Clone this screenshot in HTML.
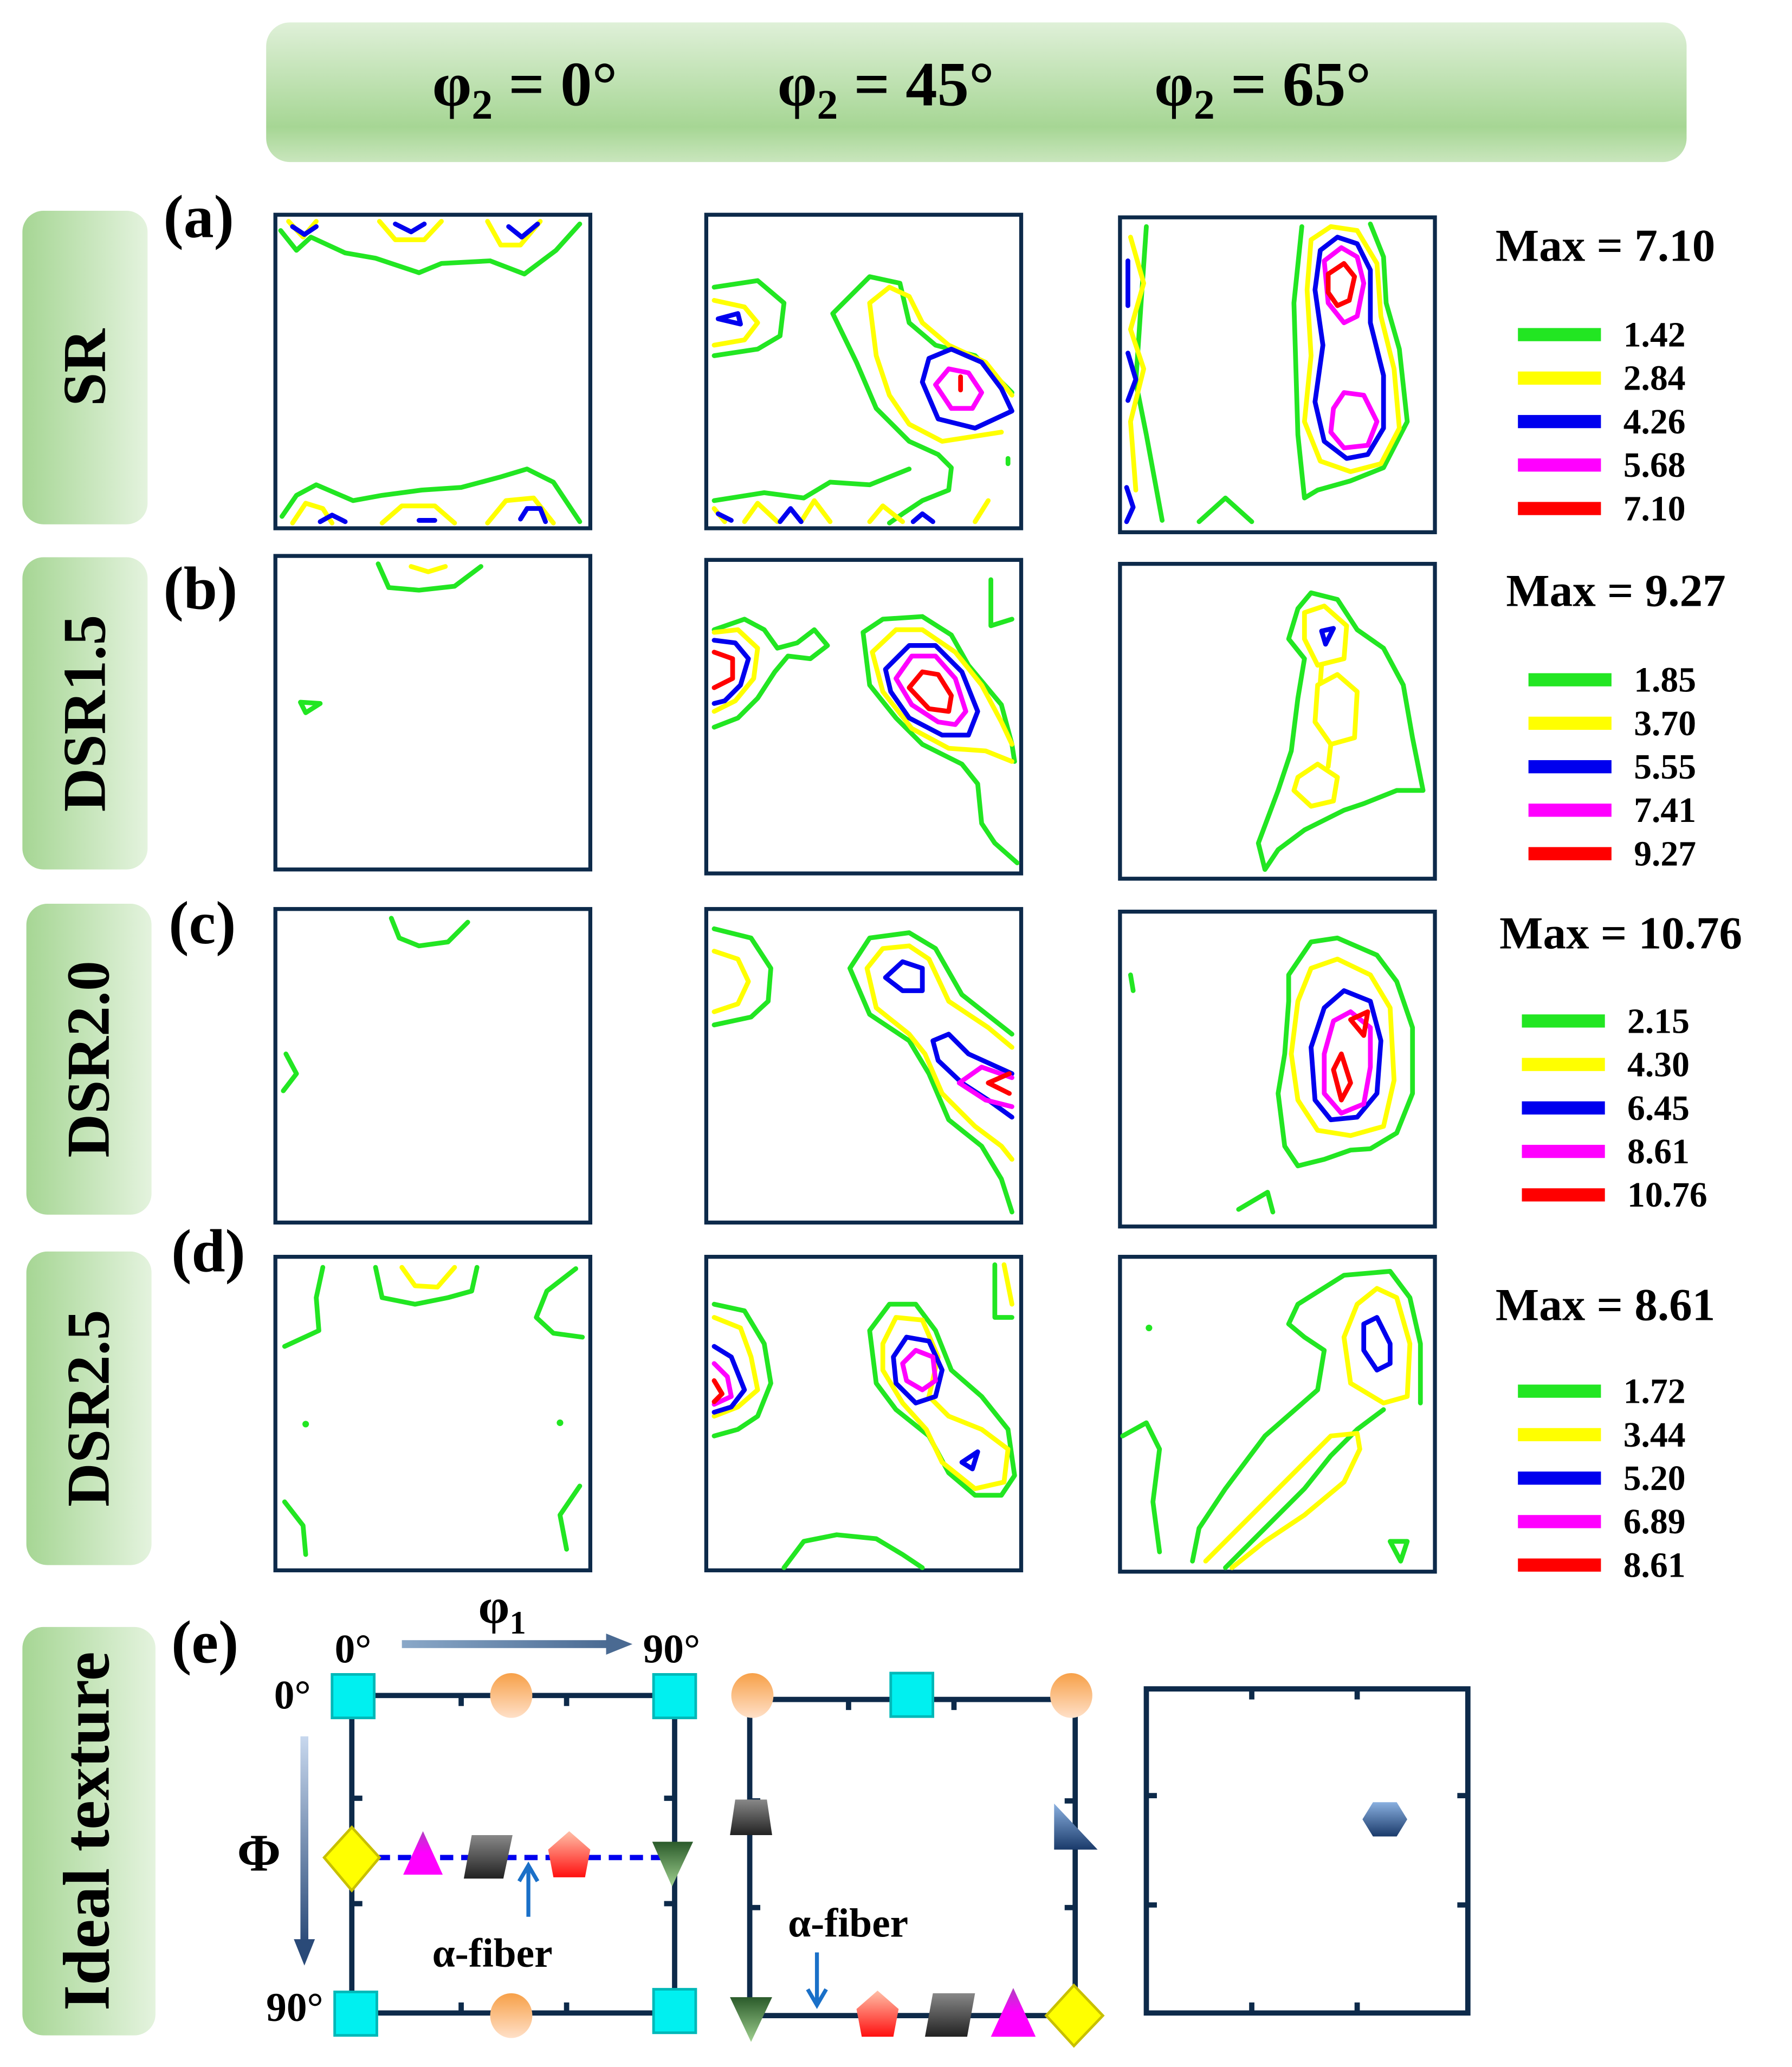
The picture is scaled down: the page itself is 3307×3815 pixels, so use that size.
<!DOCTYPE html>
<html><head><meta charset="utf-8"><style>
html,body{margin:0;padding:0;background:#fff;}
svg{display:block;}
text{font-family:"Liberation Serif",serif;font-weight:bold;fill:#000;}
.fr{fill:#fff;stroke:#0d2a4a;stroke-width:3;}
.g,.y,.b,.m,.r{fill:none;stroke-width:3.6;stroke-linejoin:round;stroke-linecap:round;}
.g{stroke:#22e622}.y{stroke:#ffff00}.b{stroke:#0000ee}.m{stroke:#ff00ff}.r{stroke:#ff0000}
.ax{stroke:#0d2a4a;stroke-width:4;fill:none;}
</style></head><body>
<svg id="fig" width="3307" height="3815" viewBox="0 0 1360 1569" preserveAspectRatio="none" xmlns="http://www.w3.org/2000/svg">
<defs>
<linearGradient id="hdr" x1="0" y1="0" x2="0" y2="1"><stop offset="0" stop-color="#dff0d8"/><stop offset="0.75" stop-color="#a6d694"/><stop offset="1" stop-color="#c9e6bd"/></linearGradient>
<linearGradient id="rowg" x1="0" y1="0" x2="1" y2="0"><stop offset="0" stop-color="#a6d694"/><stop offset="1" stop-color="#e4f3de"/></linearGradient>
<linearGradient id="arrH" x1="0" y1="0" x2="1" y2="0"><stop offset="0" stop-color="#8aa8c8"/><stop offset="1" stop-color="#4a6a92"/></linearGradient>
<linearGradient id="arrV" x1="0" y1="0" x2="0" y2="1"><stop offset="0" stop-color="#c8d8ee"/><stop offset="1" stop-color="#2a4a78"/></linearGradient>
<linearGradient id="orng" x1="0" y1="0" x2="0" y2="1"><stop offset="0" stop-color="#f7a048"/><stop offset="1" stop-color="#ffe0c8"/></linearGradient>
<linearGradient id="gray" x1="0" y1="0" x2="0" y2="1"><stop offset="0" stop-color="#888"/><stop offset="1" stop-color="#222"/></linearGradient>
<linearGradient id="redg" x1="0" y1="0" x2="0" y2="1"><stop offset="0" stop-color="#ffc0a8"/><stop offset="1" stop-color="#ff1010"/></linearGradient>
<linearGradient id="grng" x1="0" y1="0" x2="0" y2="1"><stop offset="0" stop-color="#2a5a2a"/><stop offset="1" stop-color="#9fd08f"/></linearGradient>
<linearGradient id="magg" x1="0" y1="0" x2="0" y2="1"><stop offset="0" stop-color="#b040c0"/><stop offset="0.5" stop-color="#ff00ff"/></linearGradient>
<linearGradient id="blug" x1="0" y1="0" x2="0" y2="1"><stop offset="0" stop-color="#8ab0e0"/><stop offset="1" stop-color="#1a3a6a"/></linearGradient>
</defs>

<rect x="202" y="17" width="1078" height="106" rx="18" fill="url(#hdr)"/>
<text x="328" y="80" font-size="48">φ<tspan font-size="32" dy="10">2</tspan><tspan dy="-10"> = 0°</tspan></text>
<text x="590" y="80" font-size="48">φ<tspan font-size="32" dy="10">2</tspan><tspan dy="-10"> = 45°</tspan></text>
<text x="876" y="80" font-size="48">φ<tspan font-size="32" dy="10">2</tspan><tspan dy="-10"> = 65°</tspan></text>

<g id="rowlabels"></g>
<g id="frames"></g>

<text x="124" y="180" font-size="46">(a)</text>
<text x="124" y="462" font-size="46">(b)</text>
<text x="128" y="716" font-size="46">(c)</text>
<text x="130" y="965" font-size="46">(d)</text>
<text x="130" y="1262" font-size="46">(e)</text>

<!-- a1 -->
<g>
<polyline class="g" points="213,175 225,190 236,180 262,192 285,196 318,207 335,200 372,198 398,208 422,190 440,170"/>
<polyline class="y" points="219,168 230,180 240,168"/><polyline class="y" points="288,168 300,182 322,182 335,168"/><polyline class="y" points="370,168 380,186 395,186 410,168"/>
<polyline class="b" points="222,172 231,178 240,172"/><polyline class="b" points="300,170 312,176 322,170"/><polyline class="b" points="386,172 396,180 408,170"/>
<polyline class="g" points="214,392 225,376 240,368 268,380 290,376 320,372 350,370 380,362 400,356 420,366 440,396"/>
<polyline class="y" points="222,397 232,382 245,386 252,397"/><polyline class="y" points="290,397 305,384 330,384 345,397"/><polyline class="y" points="370,397 384,380 405,378 420,397"/>
<polyline class="b" points="243,396 252,391 262,396"/><polyline class="b" points="318,395 330,395"/><polyline class="b" points="395,394 400,386 410,386 414,396"/>
</g>
<!-- a2 -->
<g>
<polyline class="g" points="542,218 575,213 595,230 592,255 575,265 542,270"/>
<polyline class="y" points="542,228 565,233 575,245 565,258 542,262"/>
<polygon class="b" points="545,242 560,238 562,246"/>
<polyline class="g" points="768,298 740,270 710,262 690,245 683,215 660,210 632,238 650,275 665,310 690,335 712,345 722,355 720,372 700,380 685,390 675,397"/>
<polyline class="g" points="542,380 580,374 610,378 630,366 660,368 690,356"/>
<polyline class="y" points="768,300 748,275 720,262 700,245 690,225 675,218 660,230 665,270 675,300 690,322 715,335 760,328"/>
<polygon class="b" points="700,290 705,272 722,265 745,275 760,295 768,312 740,325 712,318"/>
<polygon class="m" points="710,292 720,280 735,283 745,298 738,310 722,310"/>
<polyline class="r" points="729,286 729,296"/>
<polyline class="y" points="542,386 550,396"/><polyline class="y" points="565,396 575,382 590,396"/><polyline class="y" points="608,396 618,380 630,396"/><polyline class="y" points="660,396 670,384 685,396"/><polyline class="y" points="740,396 750,380"/>
<polyline class="b" points="545,390 555,395"/><polyline class="b" points="592,396 600,386 608,396"/><polyline class="b" points="693,396 700,390 708,396"/>
<polyline class="g" points="765,348 765,352"/>
</g>
<!-- a3 -->
<g>
<polyline class="g" points="870,172 866,230 862,290 870,330 882,395"/>
<polyline class="y" points="858,180 868,215 858,250 868,280 858,320 862,372"/>
<polyline class="b" points="856,198 856,232"/><polyline class="b" points="856,268 862,288 856,304"/><polyline class="b" points="855,370 860,385 855,396"/>
<polyline class="g" points="988,172 982,230 985,330 990,378 1000,372 1025,365 1050,355 1068,320 1062,265 1052,230 1050,195 1040,170"/>
<polygon class="y" points="995,182 1010,172 1030,175 1045,200 1048,240 1058,280 1062,325 1048,352 1025,358 1002,350 990,320 995,270 992,220"/>
<polygon class="b" points="1002,190 1015,180 1030,185 1040,205 1040,245 1050,285 1050,325 1038,345 1022,348 1005,335 998,305 1004,262 998,220"/>
<polygon class="m" points="1005,198 1018,188 1030,195 1035,215 1030,240 1020,245 1008,230"/>
<polygon class="m" points="1012,310 1020,298 1035,300 1045,320 1038,338 1020,340 1010,328"/>
<polygon class="r" points="1008,208 1020,200 1028,210 1024,228 1015,232 1008,222"/>
<polyline class="g" points="910,396 930,378 950,396"/>
</g>
<!-- b1 -->
<g>
<polyline class="g" points="287,428 295,446 318,448 345,445 365,430"/>
<polyline class="y" points="312,430 325,434 338,430"/>
<polygon class="g" points="228,533 243,534 232,541"/>
</g>
<!-- b2 -->
<g>
<polyline class="g" points="542,478 565,470 580,478 590,492 605,488 618,478 628,490 615,500 598,498 588,510 575,530 560,545 542,552"/>
<polyline class="y" points="542,480 560,478 575,492 572,515 558,532 542,540"/>
<polyline class="b" points="542,486 558,488 568,500 562,520 550,532 542,534"/>
<polyline class="r" points="542,495 556,500 556,515 542,522"/>
<polyline class="g" points="770,578 768,565 760,535 735,505 722,482 700,468 670,470 655,480 660,520 680,545 700,565 730,580 742,595 745,625 755,640 772,655"/>
<polyline class="g" points="752,440 752,475 768,470"/>
<polyline class="y" points="768,565 760,548 745,520 725,495 700,478 680,478 662,495 670,525 692,553 720,568 748,570 768,578"/>
<polygon class="b" points="672,508 690,490 710,490 730,510 742,540 735,558 715,558 690,545 676,525"/>
<polygon class="m" points="680,515 692,498 710,498 725,515 733,540 725,550 712,548 692,535"/>
<polygon class="r" points="690,522 700,510 712,512 722,528 720,540 705,538"/>
</g>
<!-- b3 -->
<g>
<polyline class="g" points="960,660 970,645 990,630 1020,615 1035,610 1060,600 1080,600 1072,560 1065,520 1050,492 1030,478 1015,455 995,450 985,462 978,485 990,500 985,530 980,570 970,600 955,640 960,660"/>
<polygon class="y" points="990,465 1005,460 1022,475 1020,500 1000,505 990,485"/>
<polygon class="y" points="1000,520 1015,512 1030,525 1028,560 1010,565 998,548"/>
<polygon class="y" points="985,590 1000,580 1015,590 1012,608 995,612 982,600"/>
<polyline class="y" points="1010,565 1008,582"/>
<polyline class="y" points="1003,505 1002,518"/>
<polygon class="b" points="1003,479 1012,477 1006,489"/>
</g>
<!-- c1 -->
<g>
<polyline class="g" points="297,697 303,712 318,718 340,715 355,700"/>
<polyline class="g" points="217,800 225,815 215,828"/>
</g>
<!-- c2 -->
<g>
<polyline class="g" points="542,705 570,712 585,735 583,760 570,772 542,778"/>
<polyline class="y" points="542,722 560,728 568,745 560,762 542,768"/>
<polyline class="g" points="768,785 730,755 710,720 690,708 660,712 645,735 660,770 690,790 705,815 720,850 745,870 760,895 768,920"/>
<polyline class="y" points="768,795 750,780 720,760 705,728 690,718 670,720 658,735 665,765 690,785 702,800 715,830 740,855 760,870 768,880"/>
<polygon class="b" points="672,742 685,730 700,735 700,752 685,752"/>
<polyline class="b" points="768,815 735,800 720,785 708,790 712,805 730,822 750,835 768,848"/>
<polyline class="m" points="768,818 745,810 728,822 748,835 768,840"/>
<polyline class="r" points="766,815 750,822 766,830"/>
</g>
<!-- c3 -->
<g>
<polygon class="g" points="978,740 995,715 1015,712 1045,725 1060,745 1072,780 1072,830 1060,860 1040,872 1025,873 1005,880 985,885 975,870 970,830 975,800 978,760"/>
<polyline class="g" points="858,740 860,752"/>
<polyline class="g" points="940,918 962,905 966,920"/>
<polygon class="y" points="985,760 995,735 1015,728 1040,740 1055,765 1058,820 1050,855 1025,862 1000,858 985,835 980,800"/>
<polygon class="b" points="995,795 1005,765 1020,752 1040,760 1048,790 1045,830 1030,848 1010,850 998,835"/>
<polygon class="m" points="1005,800 1012,775 1025,768 1040,780 1040,810 1035,838 1018,845 1005,830"/>
<polygon class="r" points="1012,812 1018,800 1025,822 1018,835"/>
<polygon class="r" points="1025,774 1038,768 1035,786"/>
</g>
<!-- d1 -->
<g>
<polyline class="g" points="285,962 290,985 315,990 340,985 358,980 362,962"/>
<polyline class="y" points="305,962 315,976 332,977 345,962"/>
<polyline class="g" points="245,962 240,985 242,1010 216,1022"/>
<polyline class="g" points="437,963 415,980 407,1000 420,1012 442,1015"/>
<polyline class="g" points="216,1140 230,1158 232,1180"/>
<polyline class="g" points="440,1128 425,1150 430,1176"/>
<circle cx="232" cy="1081" r="2.5" fill="#22e622"/><circle cx="425" cy="1080" r="2.5" fill="#22e622"/>
</g>
<!-- d2 -->
<g>
<polyline class="g" points="542,990 565,995 580,1020 585,1050 575,1075 560,1085 542,1090"/>
<polyline class="y" points="542,1000 562,1008 570,1030 575,1055 560,1068 542,1075"/>
<polyline class="b" points="542,1022 555,1030 565,1055 555,1068 542,1072"/>
<polyline class="m" points="542,1035 552,1045 555,1060 542,1066"/>
<polyline class="r" points="542,1048 548,1058 542,1064"/>
<polyline class="g" points="755,960 755,1000 768,1000"/>
<polyline class="y" points="762,960 768,990"/>
<polygon class="g" points="660,1010 675,990 695,990 710,1010 722,1040 745,1060 765,1085 770,1120 760,1135 740,1135 720,1118 705,1090 680,1070 665,1050"/>
<polygon class="y" points="670,1020 680,1000 700,1002 712,1030 705,1060 720,1075 745,1085 765,1100 762,1125 740,1130 715,1110 703,1085 685,1065 670,1040"/>
<polygon class="b" points="678,1030 688,1015 705,1018 715,1040 710,1060 695,1065 680,1050"/>
<polygon class="m" points="685,1035 695,1025 708,1030 710,1048 700,1055 688,1048"/>
<polygon class="b" points="730,1110 742,1102 738,1115"/>
<polyline class="g" points="595,1190 610,1170 635,1165 665,1168 685,1180 700,1190"/>
</g>
<!-- d3 -->
<g>
<polyline class="g" points="1078,1065 1078,1020 1070,985 1055,965 1020,968 985,990 978,1005 990,1015 1005,1025 1000,1055 960,1090 930,1130 910,1160 905,1185"/>
<polyline class="g" points="1050,1070 1030,1085 1010,1105 990,1130 965,1155 945,1175 930,1190"/>
<polyline class="g" points="852,1090 870,1080 880,1100 875,1140 880,1178"/>
<polygon class="y" points="1030,990 1045,978 1060,985 1070,1020 1068,1060 1050,1065 1025,1050 1020,1015"/>
<polyline class="y" points="915,1185 940,1160 965,1135 990,1110 1010,1090 1030,1088 1032,1100 1020,1125 990,1150 960,1170 935,1190"/>
<polygon class="b" points="1035,1005 1045,1000 1055,1020 1055,1035 1045,1040 1035,1025"/>
<polygon class="g" points="1055,1170 1068,1170 1063,1185"/>
<circle cx="872" cy="1008" r="2.5" fill="#22e622"/>
</g>

<g id="legends"></g>

<!-- ideal texture -->
<g>
<text x="254" y="1262" font-size="31">0°</text>
<text x="488" y="1262" font-size="31">90°</text>
<text x="363" y="1232" font-size="38">φ<tspan font-size="25" dy="8">1</tspan></text>
<rect x="305" y="1245" width="158" height="6" fill="url(#arrH)"/><polygon points="460,1240 480,1248 460,1256" fill="#4a6a92"/>
<text x="208" y="1297" font-size="31">0°</text>
<text x="202" y="1534" font-size="31">90°</text>
<text x="180" y="1420" font-size="40">Φ</text>
<rect x="228" y="1318" width="6" height="158" fill="url(#arrV)"/><polygon points="223,1472 231,1492 239,1472" fill="#2a4a78"/>
<path class="ax" d="M267,1287 V1528 H512 V1287 Z M350,1287 v8 M430,1287 v8 M350,1528 v-8 M430,1528 v-8 M267,1365 h8 M267,1445 h8 M512,1365 h-8 M512,1445 h-8"/>
<line x1="270" y1="1410" x2="510" y2="1410" stroke="#0000ee" stroke-width="4" stroke-dasharray="10,6"/>
<path class="ax" d="M569,1290 V1530 H816 V1290 Z M644,1290 v8 M724,1290 v8 M569,1367 h8 M569,1448 h8 M816,1367 h-8 M816,1448 h-8"/>
<path class="ax" d="M870,1282 V1528 H1114 V1282 Z M950,1282 v8 M1030,1282 v8 M950,1528 v-8 M1030,1528 v-8 M870,1363 h8 M870,1446 h8 M1114,1363 h-8 M1114,1446 h-8"/>
<g>
<rect x="252" y="1271" width="32" height="33" fill="#00f0f0" stroke="#00b8b8" stroke-width="2"/>
<rect x="496" y="1271" width="32" height="33" fill="#00f0f0" stroke="#00b8b8" stroke-width="2"/>
<rect x="254" y="1512" width="32" height="33" fill="#00f0f0" stroke="#00b8b8" stroke-width="2"/>
<rect x="496" y="1510" width="32" height="33" fill="#00f0f0" stroke="#00b8b8" stroke-width="2"/>
<ellipse cx="388" cy="1287" rx="16" ry="17" fill="url(#orng)"/>
<ellipse cx="388" cy="1530" rx="16" ry="17" fill="url(#orng)"/>
<polygon points="267,1387 288,1410 267,1435 246,1410" fill="#ffff00" stroke="#c8c000" stroke-width="2"/>
<polygon points="321,1390 336,1423 306,1423" fill="url(#magg)"/>
<polygon points="358,1393 389,1393 382,1426 352,1426" fill="url(#gray)"/>
<polygon points="432,1390 448,1404 444,1425 420,1425 416,1404" fill="url(#redg)"/>
<polygon points="495,1398 526,1398 510,1432" fill="url(#grng)"/>
<ellipse cx="571" cy="1287" rx="16" ry="17" fill="url(#orng)"/>
<ellipse cx="813" cy="1287" rx="16" ry="17" fill="url(#orng)"/>
<rect x="676" y="1270" width="32" height="33" fill="#00f0f0" stroke="#00b8b8" stroke-width="2"/>
<polygon points="558,1366 582,1366 586,1393 554,1393" fill="url(#gray)"/>
<polygon points="800,1369 800,1404 833,1404" fill="url(#blug)"/>
<polygon points="554,1516 586,1516 570,1550" fill="url(#grng)"/>
<polygon points="666,1511 682,1525 678,1546 654,1546 650,1525" fill="url(#redg)"/>
<polygon points="708,1513 740,1513 734,1546 702,1546" fill="url(#gray)"/>
<polygon points="769,1509 786,1546 752,1546" fill="url(#magg)"/>
<polygon points="815,1507 837,1530 815,1553 794,1530" fill="#ffff00" stroke="#c8c000" stroke-width="2"/>
<polygon points="1042,1368 1060,1368 1068,1381 1060,1394 1042,1394 1034,1381" fill="url(#blug)"/>
</g>
<line x1="401" y1="1455" x2="401" y2="1418" stroke="#1a70c8" stroke-width="3"/><polyline points="394,1428 401,1416 408,1428" fill="none" stroke="#1a70c8" stroke-width="3"/>
<text x="328" y="1493" font-size="31">α-fiber</text>
<line x1="620" y1="1482" x2="620" y2="1520" stroke="#1a70c8" stroke-width="3"/><polyline points="613,1510 620,1522 627,1510" fill="none" stroke="#1a70c8" stroke-width="3"/>
<text x="598" y="1470" font-size="31">α-fiber</text>
</g>
</svg>
<script>
var NS="http://www.w3.org/2000/svg";
function mk(tag,attrs,parent){var e=document.createElementNS(NS,tag);for(var k in attrs)e.setAttribute(k,attrs[k]);parent.appendChild(e);return e;}
var rowNames=["SR","DSR1.5","DSR2.0","DSR2.5","Ideal texture"];
var maxValues=["7.10","9.27","10.76","8.61"];
var levelsSR=["1.42","2.84","4.26","5.68","7.10"];
var levelsDSR15=["1.85","3.70","5.55","7.41","9.27"];
var levelsDSR20=["2.15","4.30","6.45","8.61","10.76"];
var levelsDSR25=["1.72","3.44","5.20","6.89","8.61"];
var levelColors=["#22e622","#ffff00","#0000ee","#ff00ff","#ff0000"];
var allLevels=[levelsSR,levelsDSR15,levelsDSR20,levelsDSR25];

var rowBoxes=[[17,160,95,238],[17,423,95,237],[20,686,95,236],[20,950,95,238],[17,1235,101,310]];
var rl=document.getElementById("rowlabels");
rowBoxes.forEach(function(b,i){
  var r=mk("rect",{x:b[0],y:b[1],width:b[2],height:b[3],rx:16,fill:"url(#rowg)"},rl);
  
  
  var cx=b[0]+b[2]/2+15, cy=b[1]+b[3]/2;
  var t=mk("text",{x:cx,y:cy,"font-size":i==4?50:46,"text-anchor":"middle",transform:"rotate(-90 "+cx+" "+cy+")"},rl);
  
  
  t.textContent=rowNames[i];
});

var colX=[209,536,850];
var rowY=[[163,163,165],[422,425,428],[690,690,692],[954,954,954]];
var fg=document.getElementById("frames");
for(var r=0;r<4;r++)for(var c=0;c<3;c++){
  var f=mk("rect",{x:colX[c],y:rowY[r][c],width:239,height:(c==2?239:238),"class":"fr"},fg);
  
  
}

var legX=[1135,1143,1138,1135], legY=[198,460,720,1002], legLineX=[1152,1160,1155,1152], legFirst=[254,516,775,1056];
var lg=document.getElementById("legends");
for(var i=0;i<4;i++){
  var m=mk("text",{x:legX[i],y:legY[i],"font-size":35},lg);
  
  
  m.textContent="Max = "+maxValues[i];
  allLevels[i].forEach(function(v,j){
    var y=legFirst[i]+j*33;
    var ln=mk("rect",{x:legLineX[i],y:y-5,width:63,height:10,fill:levelColors[j]},lg);
    
    
    var t=mk("text",{x:legLineX[i]+80,y:y+9,"font-size":27},lg);
    
    
    t.textContent=v;
  });
}
</script>
</body></html>
